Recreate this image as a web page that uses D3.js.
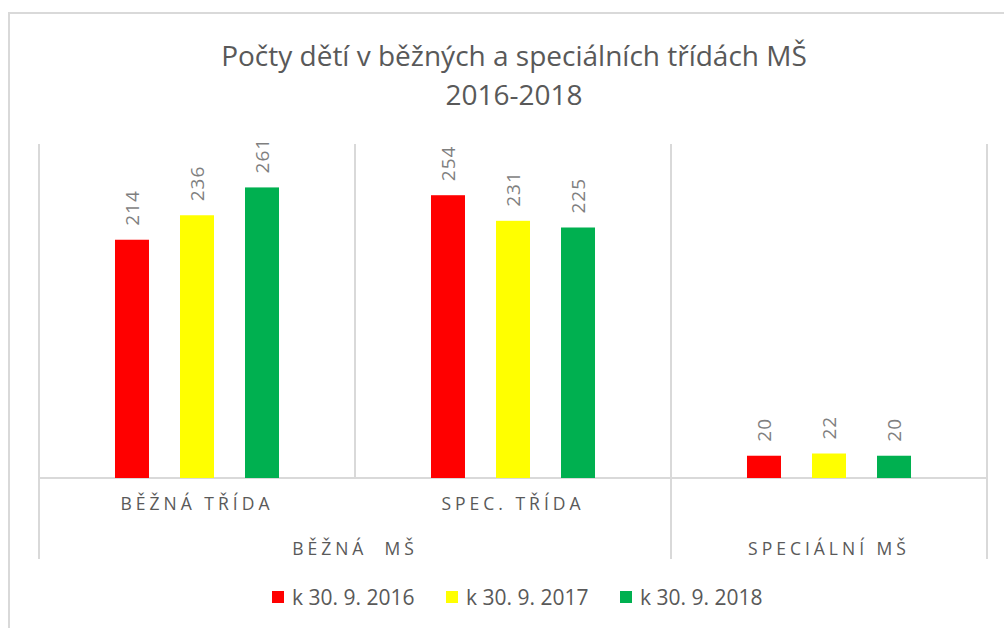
<!DOCTYPE html>
<html>
<head>
<meta charset="utf-8">
<script src="https://cdn.jsdelivr.net/npm/d3@7"></script>
<style>
  body { margin: 0; background: #fff; }
  text { font-family: "Open Sans", sans-serif; }
</style>
</head>
<body>
<script>
// data
const groups = ["BĚŽNÁ  MŠ", "SPECIÁLNÍ MŠ"];
const categories = ["BĚŽNÁ TŘÍDA", "SPEC. TŘÍDA", "SPECIÁLNÍ MŠ"];
const categoryLabels = ["BĚŽNÁ TŘÍDA", "SPEC. TŘÍDA", ""];
const categoryGroup = ["BĚŽNÁ  MŠ", "BĚŽNÁ  MŠ", "SPECIÁLNÍ MŠ"];
const seriesNames = ["k 30. 9. 2016", "k 30. 9. 2017", "k 30. 9. 2018"];
const seriesColors = ["#ff0000", "#ffff00", "#00b050"];
const values2016 = [214, 254, 20];
const values2017 = [236, 231, 22];
const values2018 = [261, 225, 20];

const seriesValues = [values2016, values2017, values2018];

const width = 1004, height = 628;
const plotLeft = 39, plotRight = 987, plotTop = 144, axisY = 478, bottomY = 559;

const svg = d3.select("body").append("svg")
  .attr("width", width)
  .attr("height", height);

// outer chart border
svg.append("rect")
  .attr("x", 9).attr("y", 13)
  .attr("width", 1010).attr("height", 640)
  .attr("fill", "none")
  .attr("stroke", "#d9d9d9")
  .attr("stroke-width", 2);

// title
const title = svg.append("text")
  .attr("x", 514)
  .attr("text-anchor", "middle")
  .attr("fill", "#595959")
  .style("font-size", "28px");
title.append("tspan").attr("x", 514).attr("y", 66).text("Počty dětí v běžných a speciálních třídách MŠ");
title.append("tspan").attr("x", 514).attr("y", 105).text("2016-2018");

const x = d3.scaleBand().domain(categories).range([plotLeft, plotRight]);
const xs = d3.scaleBand().domain(seriesNames).range([0, x.bandwidth()])
  .paddingInner(0.477).paddingOuter(1.169);
const y = d3.scaleLinear().domain([0, 300]).range([axisY, plotTop]);

// vertical gridlines between categories
const edges = categories.map(c => x(c)).concat([plotRight]);
svg.selectAll(".grid")
  .data(edges)
  .enter().append("line")
  .attr("x1", d => d).attr("x2", d => d)
  .attr("y1", plotTop)
  .attr("y2", (d, i) => (i === 1 ? axisY : bottomY))
  .attr("stroke", "#d9d9d9")
  .attr("stroke-width", 2);

// axis line
svg.append("line")
  .attr("x1", plotLeft).attr("x2", plotRight)
  .attr("y1", axisY).attr("y2", axisY)
  .attr("stroke", "#d9d9d9")
  .attr("stroke-width", 2);

// bars
const flat = [];
categories.forEach((c, ci) => {
  seriesNames.forEach((s, si) => {
    flat.push({ cat: c, series: s, color: seriesColors[si], value: seriesValues[si][ci] });
  });
});

svg.selectAll(".bar")
  .data(flat)
  .enter().append("rect")
  .attr("class", "bar")
  .attr("x", d => x(d.cat) + xs(d.series))
  .attr("y", d => y(d.value))
  .attr("width", xs.bandwidth())
  .attr("height", d => axisY - y(d.value))
  .attr("fill", d => d.color);

// data labels (rotated)
svg.selectAll(".lbl")
  .data(flat)
  .enter().append("text")
  .attr("transform", d => `translate(${x(d.cat) + xs(d.series) + xs.bandwidth() / 2 + 7}, ${y(d.value) - 14}) rotate(-90)`)
  .attr("text-anchor", "start")
  .attr("fill", "#7f7f7f")
  .style("font-size", "19px")
  .style("letter-spacing", "1px")
  .text(d => d.value);

// category labels (level 1)
svg.selectAll(".cat")
  .data(categories)
  .enter().append("text")
  .attr("x", d => x(d) + x.bandwidth() / 2)
  .attr("y", 510)
  .attr("text-anchor", "middle")
  .attr("fill", "#595959")
  .style("font-size", "17.5px")
  .style("letter-spacing", "4px")
  .text((d, i) => categoryLabels[i]);

// group labels (level 2)
groups.forEach(g => {
  const cats = categories.filter((c, i) => categoryGroup[i] === g);
  const x0 = x(cats[0]), x1 = x(cats[cats.length - 1]) + x.bandwidth();
  svg.append("text")
    .attr("x", (x0 + x1) / 2)
    .attr("y", 555)
    .attr("text-anchor", "middle")
    .attr("fill", "#595959")
    .style("font-size", "17.5px")
    .style("letter-spacing", "4px")
    .style("white-space", "pre")
    .text(g);
});

// legend
const legendX = [272, 446, 620];
const legend = svg.selectAll(".leg")
  .data(seriesNames)
  .enter().append("g")
  .attr("transform", (d, i) => `translate(${legendX[i]}, 597)`);
legend.append("rect")
  .attr("x", 0).attr("y", -6)
  .attr("width", 12).attr("height", 12)
  .attr("fill", (d, i) => seriesColors[i]);
legend.append("text")
  .attr("x", 20).attr("y", 7.5)
  .attr("fill", "#595959")
  .style("font-size", "21px")
  .text(d => d);
</script>
</body>
</html>
